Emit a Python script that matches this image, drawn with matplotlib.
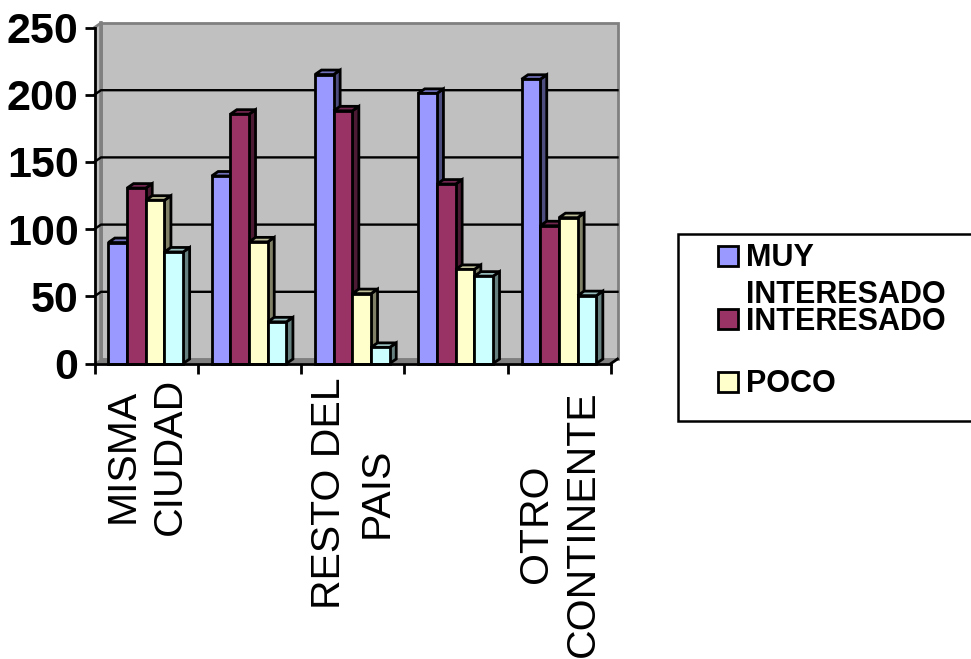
import matplotlib
matplotlib.use("Agg")
import matplotlib.pyplot as plt
from matplotlib.patches import Polygon, Rectangle
from matplotlib.transforms import ScaledTranslation

plt.rcParams["font.family"] = ["Liberation Sans", "DejaVu Sans"]

# Survey counts by distance
categories = ["MISMA\nCIUDAD", "", "RESTO DEL\nPAIS", "", "OTRO\nCONTINENTE"]
muy_interesado = [90, 139.5, 215, 201, 211.5]
interesado = [130.5, 185.5, 188, 133.5, 102.5]
poco = [121.5, 90.5, 52, 70, 108.5]
nada = [83, 31, 12, 65, 50.5]
y_ticks = [0, 50, 100, 150, 200, 250]
legend_labels = ["MUY\nINTERESADO", "INTERESADO", "POCO"]

series = [muy_interesado, interesado, poco, nada]
face = ["#9999FF", "#993366", "#FFFFCC", "#CCFFFF"]
side = ["#4D4D80", "#4D1A33", "#808066", "#668080"]
top = ["#7070BB", "#732650", "#BFBF99", "#99BFBF"]

W, H = 971, 659
fig = plt.figure(figsize=(W / 100, H / 100), dpi=100, facecolor="white")
# plot box spans the front plane of the pseudo-3D chart
x0, x1, y_base, y_top = 94.5, 611.0, 363.5, 27.5
ax = fig.add_axes([x0 / W, 1 - y_base / H, (x1 - x0) / W, (y_base - y_top) / H])
ax.set_xlim(0, len(categories))
ax.set_ylim(0, 250)

# depth of the extrusion, in data units
dx = 6.5 / ((x1 - x0) / len(categories))
dy = 4.5 / ((y_base - y_top) / 250)
edge_lw = 2.0
ymax = 250
n = len(categories)

# back wall, side wall and floor
ax.add_patch(Polygon([(dx, dy), (n + dx, dy), (n + dx, ymax + dy), (dx, ymax + dy)],
                     closed=True, fc="#C0C0C0", ec="#808080", lw=2.0, clip_on=False, zorder=1))
ax.add_patch(Polygon([(0, 0), (dx, dy), (dx, ymax + dy), (0, ymax)], closed=True,
                     fc="#C0C0C0", ec="none", clip_on=False, zorder=1))
ax.plot([dx, dx], [dy, ymax + dy], color="#808080", lw=2.6, clip_on=False, zorder=1.1)
ax.add_patch(Polygon([(0, 0), (dx, dy), (n + dx, dy), (n, 0)], closed=True,
                     fc="#808080", ec="#808080", lw=0.5, clip_on=False, zorder=1.2))
ax.plot([0, dx], [ymax, ymax + dy], color="#808080", lw=2.0, clip_on=False, zorder=1.1)
ax.plot([n, n + dx], [0, dy], color="black", lw=edge_lw, clip_on=False, zorder=1.3)

# gridlines run along the back wall with a short diagonal on the side wall
for v in y_ticks[1:-1]:
    ax.plot([0, dx, n + dx], [v, v + dy, v + dy], color="black", lw=1.7,
            clip_on=False, zorder=1.5)

bar_w = 0.181
start = 0.134
z = 2.0
for c in range(n):
    for s, values in enumerate(series):
        left = c + start + s * bar_w
        v = values[c]
        right = left + bar_w
        ax.add_patch(Polygon([(right, 0), (right + dx, dy), (right + dx, v + dy), (right, v)],
                             closed=True, fc=side[s], ec="black", lw=edge_lw,
                             joinstyle="miter", clip_on=False, zorder=z))
        ax.add_patch(Polygon([(left, v), (left + dx, v + dy), (right + dx, v + dy), (right, v)],
                             closed=True, fc=top[s], ec="black", lw=edge_lw,
                             joinstyle="miter", clip_on=False, zorder=z))
        ax.bar(left, v, width=bar_w, align="edge", color=face[s], edgecolor="black",
               linewidth=edge_lw, clip_on=False, zorder=z + 0.1)
        z += 0.2

for name in ("top", "right"):
    ax.spines[name].set_visible(False)
for name in ("left", "bottom"):
    ax.spines[name].set_linewidth(2.0)
    ax.spines[name].set_zorder(50)

ax.set_yticks(y_ticks)
ax.set_yticklabels([str(t) for t in y_ticks], fontsize=31, fontweight="bold")
ax.tick_params(axis="y", length=7, width=2.0, pad=4.5)
ax.set_xticks(range(n + 1))
ax.set_xticklabels([])
ax.tick_params(axis="x", which="major", length=7.5, width=2.0)
ax.set_xticks([c + 0.5 for c in range(n)], minor=True)
cat_labels = ax.set_xticklabels(categories, minor=True, rotation=90, fontsize=29.5,
                                ha="center", va="top", ma="center", linespacing=1.3)
ax.tick_params(axis="x", which="minor", length=0, pad=10)
# the longest label sits a little lower than the others
cat_labels[-1].set_transform(cat_labels[-1].get_transform()
                             + ScaledTranslation(0, -13 / 100, fig.dpi_scale_trans))

# legend box runs off the right edge of the figure
fig.add_artist(Rectangle((678 / W, 1 - 421 / H), 300 / W, 187 / H, transform=fig.transFigure,
                         fc="white", ec="black", lw=1.8))
legend_marker_y = [256, 319, 382]
legend_baseline_y = [303, 330, 392]
for label, color, ym, yb in zip(legend_labels, face, legend_marker_y, legend_baseline_y):
    fig.add_artist(Rectangle((717.5 / W, 1 - (ym + 10) / H), 20 / W, 20 / H,
                             transform=fig.transFigure, fc=color, ec="black", lw=2.0))
    fig.text(746 / W, 1 - yb / H, label, fontsize=22, fontweight="bold", color="black",
             ha="left", va="baseline", linespacing=1.32)

fig.savefig("out.png", dpi=100, facecolor="white")
